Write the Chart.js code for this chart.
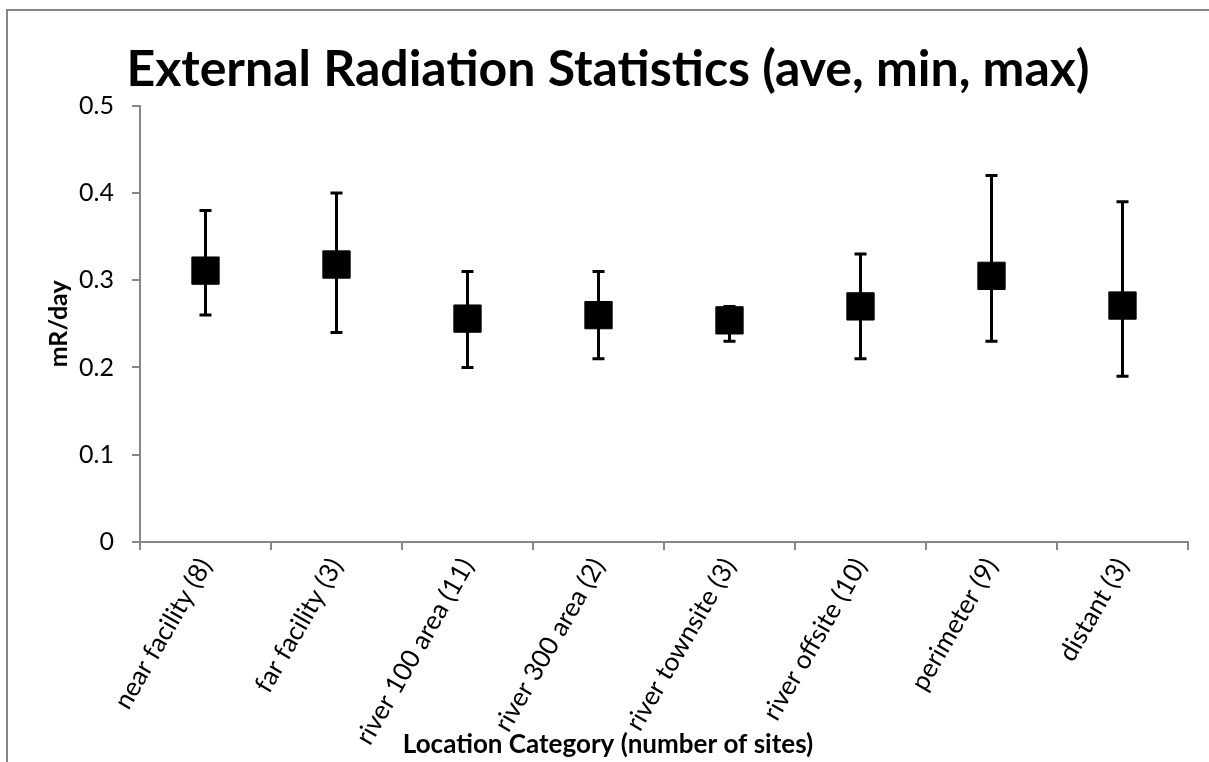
<!DOCTYPE html>
<html>
<head>
<meta charset="utf-8">
<script src="https://cdn.jsdelivr.net/npm/chart.js@4/dist/chart.umd.min.js"></script>
<style>
  html, body { margin: 0; padding: 0; background: #ffffff; }
  #wrap { position: relative; width: 1209px; height: 762px; overflow: hidden; }
  #frame { position: absolute; left: 6px; top: 9px; width: 1300px; height: 900px; border: 2px solid #878787; box-sizing: border-box; }
  #c { position: absolute; left: 0; top: 0; }
</style>
</head>
<body>
<div id="wrap">
  <div id="frame"></div>
  <canvas id="c" width="1209" height="762"></canvas>
</div>
<script>
const categories = ['near facility (8)', 'far facility (3)', 'river 100 area (11)', 'river 300 area (2)',
                    'river townsite (3)', 'river offsite (10)', 'perimeter (9)', 'distant (3)'];
const aveValues = [0.311, 0.318, 0.256, 0.260, 0.254, 0.270, 0.305, 0.271];
const minValues = [0.26, 0.24, 0.20, 0.21, 0.23, 0.21, 0.23, 0.19];
const maxValues = [0.38, 0.40, 0.31, 0.31, 0.27, 0.33, 0.42, 0.39];
const yTickLabels = ['0', '0.1', '0.2', '0.3', '0.4', '0.5'];

const FONT = 'Lato, "Open Sans", sans-serif';
const AXIS_GREY = '#878787';

const errorBars = {
  id: 'errorBars',
  beforeDatasetsDraw(chart) {
    const ctx = chart.ctx;
    const xs = chart.scales.x, ys = chart.scales.y;
    ctx.save();
    ctx.strokeStyle = '#000';
    ctx.lineWidth = 3;
    ctx.lineCap = 'butt';
    categories.forEach((c, i) => {
      const x = xs.getPixelForValue(i);
      const yMin = ys.getPixelForValue(minValues[i]);
      const yMax = ys.getPixelForValue(maxValues[i]);
      ctx.beginPath();
      ctx.moveTo(x, yMin); ctx.lineTo(x, yMax);
      ctx.moveTo(x - 6, yMin); ctx.lineTo(x + 6, yMin);
      ctx.moveTo(x - 6, yMax); ctx.lineTo(x + 6, yMax);
      ctx.stroke();
    });
    ctx.restore();
  }
};

new Chart(document.getElementById('c'), {
  type: 'line',
  data: {
    labels: categories,
    datasets: [{
      label: 'ave',
      data: aveValues,
      showLine: false,
      pointStyle: 'rect',
      pointRadius: 19.3,
      pointHoverRadius: 19.3,
      pointBackgroundColor: '#000',
      pointBorderColor: '#000',
      pointBorderWidth: 1
    }]
  },
  options: {
    responsive: false,
    devicePixelRatio: 1,
    animation: false,
    events: [],
    layout: { padding: { left: 28, right: 21, top: 10, bottom: 1.4 } },
    plugins: {
      legend: { display: false },
      tooltip: { enabled: false },
      title: {
        display: true,
        text: 'External Radiation Statistics (ave, min, max)',
        color: '#000',
        font: { family: FONT, size: 50, weight: 'bold', lineHeight: 1.2 },
        padding: { top: 30, bottom: 5.7 }
      },
      subtitle: {
        display: true,
        position: 'bottom',
        text: 'Location Category (number of sites)',
        color: '#000',
        font: { family: FONT, size: 26, weight: 'bold', lineHeight: 1.2 },
        padding: { top: -20, bottom: 0 }
      }
    },
    scales: {
      x: {
        type: 'category',
        offset: true,
        afterFit(scale) { scale.height = 760.6 - 11.2 - 542; },
        grid: { display: true, offset: true, drawOnChartArea: false, tickLength: 8, color: AXIS_GREY, lineWidth: 2 },
        border: { display: true, color: AXIS_GREY, width: 2 },
        ticks: {
          color: '#000',
          font: { family: FONT, size: 26 },
          minRotation: 60,
          maxRotation: 60,
          autoSkip: false,
          padding: 3
        }
      },
      y: {
        min: 0,
        max: 0.5,
        afterFit(scale) { scale.width = 140 - 28; },
        grid: { display: true, drawOnChartArea: false, tickLength: 8, color: AXIS_GREY, lineWidth: 2 },
        border: { display: true, color: AXIS_GREY, width: 2 },
        ticks: {
          stepSize: 0.1,
          color: '#000',
          font: { family: FONT, size: 25 },
          padding: 18,
          callback: (v, i) => yTickLabels[i]
        },
        title: {
          display: true,
          text: 'mR/day',
          color: '#000',
          font: { family: FONT, size: 25, weight: 'bold', lineHeight: 1.2 },
          padding: { top: 16, bottom: 0 }
        }
      }
    }
  },
  plugins: [errorBars]
});
</script>
</body>
</html>
